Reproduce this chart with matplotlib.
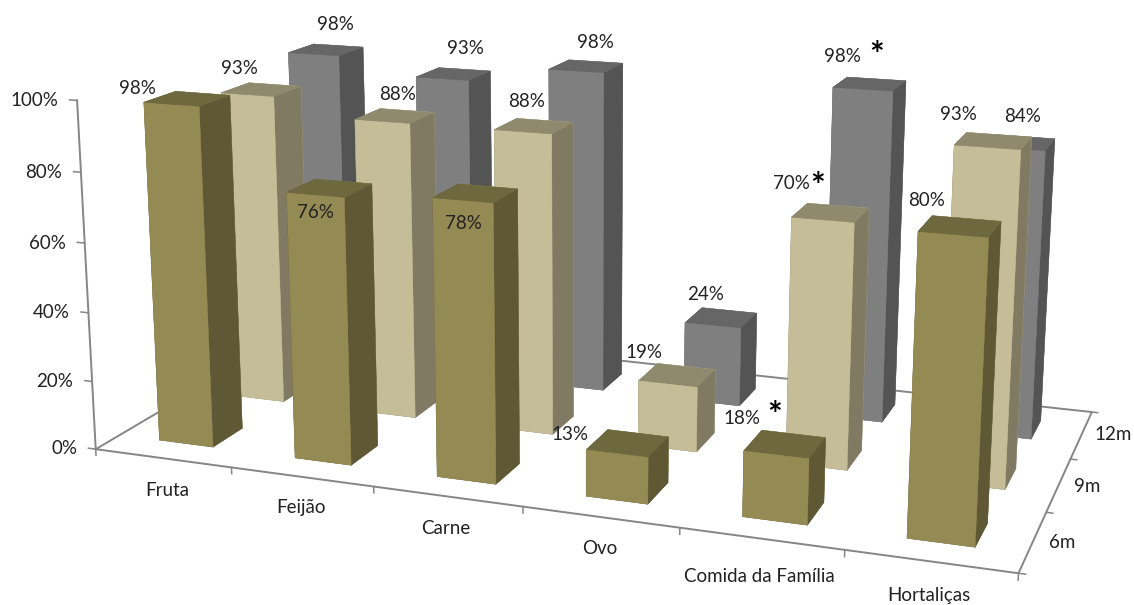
import numpy as np
import matplotlib
matplotlib.use('Agg')
from matplotlib import pyplot as plt
from mpl_toolkits.mplot3d import Axes3D

W, H = 1134, 605
plt.rcParams['font.family'] = ['Lato', 'DejaVu Sans']

categories = ['Fruta', 'Feijão', 'Carne', 'Ovo', 'Comida da Família', 'Hortaliças']
ages = ['6m', '9m', '12m']
values_6m = [98, 76, 78, 13, 18, 80]
values_9m = [93, 88, 88, 19, 70, 93]
values_12m = [98, 93, 98, 24, 98, 84]
series = [values_6m, values_9m, values_12m]
percent_ticks = [0, 20, 40, 60, 80, 100]

# face colours per row: front, side, top
row_colors = [('#948a54', '#5e5835', '#6e683f'),
              ('#c4bd97', '#7f7a61', '#8f8a6e'),
              ('#7f7f7f', '#545454', '#666666')]
axis_color = '#868686'
text_color = '#222222'

# perspective camera: world (category, row, percent) -> pixels from the top left
camera = np.array([[130.419749359, 88.328241619, -0.21460934, 95.721295821],
                   [7.517905074, -20.943211632, -3.524714944, 449.177635203],
                   [-0.022951195, 0.061587929, -0.000368375, 1.0]])
# third row makes depth grow away from the viewer
M = np.vstack([camera[0], camera[1], [0, 0, 0, -1], camera[2]])

fig = plt.figure(figsize=(W/100, H/100), dpi=100)
ax = fig.add_axes([0, 0, 1, 1], projection='3d', computed_zorder=False)
ax.set_proj_type('ortho')  # keeps Line3D from clipping to the -1..1 cube
ax.set_axis_off()
ax.apply_aspect = lambda position=None: None
ax.get_proj = lambda: M
ax.viewLim.set_points(np.array([[0., H], [W, 0.]]))

n_cat = len(categories)
n_row = len(series)


def label(px, py, s, ha='center', **kw):
    kw.setdefault('fontsize', 13.5)
    kw.setdefault('color', text_color)
    fig.text(px/W, 1 - (py + 2)/H, s, ha=ha, va='center', **kw)


# floor outline and value axis
ax.plot([0, n_cat, n_cat, 0, 0], [0, 0, n_row, n_row, 0], [0, 0, 0, 0, 0], color=axis_color, lw=1.4, zorder=0)
ax.plot([0, 0], [0, 0], [0, 100], color=axis_color, lw=1.4, zorder=0)
for t in percent_ticks:
    ax.plot([-0.055, 0], [0, 0], [t, t], color=axis_color, lw=1.1, zorder=0)
    q = camera @ np.array([-0.14, 0, t, 1.0])
    label(q[0]/q[2], q[1]/q[2], f'{t}%', ha='right')
for i in range(n_cat + 1):
    ax.plot([i, i], [0, 0], [0, -1.8], color=axis_color, lw=1.1, zorder=0)
for j in range(n_row + 1):
    ax.plot([n_cat, n_cat + 0.04], [j, j], [0, 0], color=axis_color, lw=1.1, zorder=0)

# bars, back row first
bar_w = 0.4
bar_d = 0.4
order = 1
for j in reversed(range(n_row)):
    front, side, top = row_colors[j]
    # bar3d face order: -z, +z, -y, +y, -x, +x
    faces = [top, top, front, front, side, side]
    for i in range(n_cat):
        col = ax.bar3d(i + 0.5 - bar_w/2, j + 0.5 - bar_d/2, 0, bar_w, bar_d, series[j][i],
                       color=faces, edgecolor=faces, linewidth=0.3, shade=False)
        col.set_zorder(order)
        order += 1

cat_label_px = [(167, 488), (301, 506), (446, 527), (600, 546), (759, 575), (929, 594)]
age_label_px = [(1062, 540), (1087, 484), (1113, 433)]
for name, (px, py) in zip(categories, cat_label_px):
    label(px, py, name)
for name, (px, py) in zip(ages, age_label_px):
    label(px, py, name)

value_label_px = [
    [(137, 87), (315, 211), (463, 222), (570, 432), (742, 416), (927, 198)],
    [(239, 66), (398, 92), (527, 99), (644, 350), (791, 182), (958, 112)],
    [(335, 23), (465, 47), (595, 41), (706, 292), (842, 55), (1023, 115)],
]
for vals, places in zip(series, value_label_px):
    for v, (px, py) in zip(vals, places):
        label(px, py, f'{v}%')

for px, py in [(877, 54), (818, 185), (775, 414)]:
    label(px, py, '*', fontsize=25, fontweight='bold', color='black')

fig.savefig('out.png', dpi=100)
